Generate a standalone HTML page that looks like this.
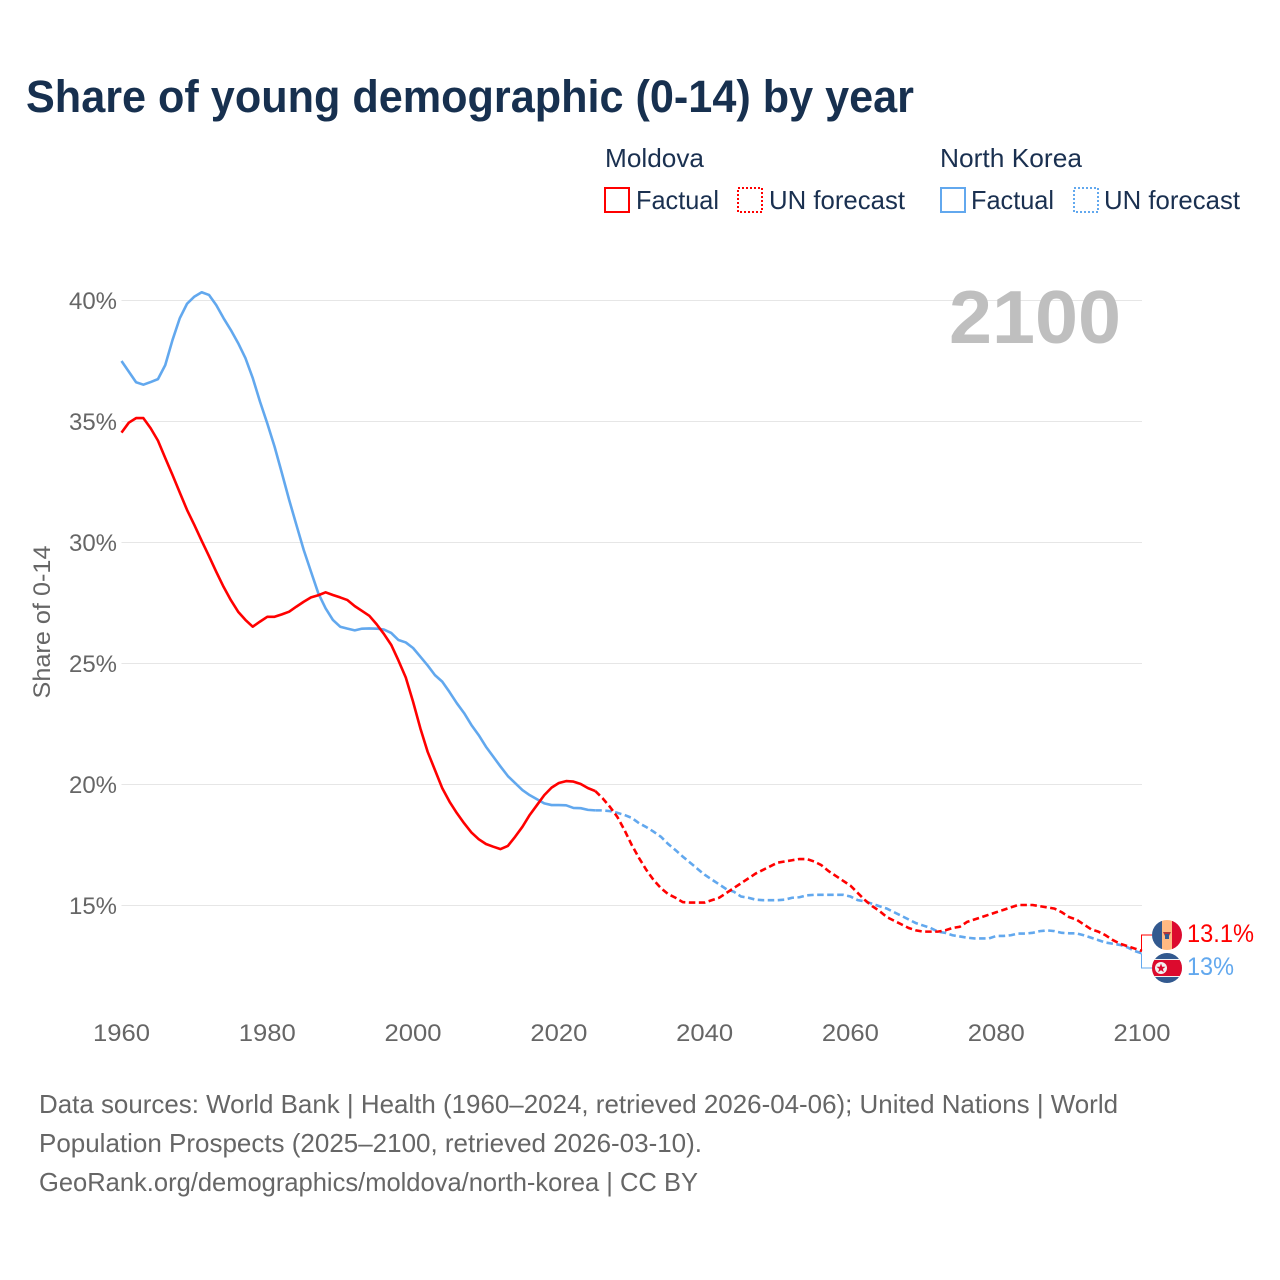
<!DOCTYPE html>
<html lang="en">
<head>
<meta charset="utf-8">
<title>Share of young demographic (0-14) by year</title>
<style>
html,body{margin:0;padding:0;background:#fff;}
svg{display:block;font-family:"Liberation Sans",sans-serif;}
</style>
</head>
<body>
<svg id="chart" xmlns="http://www.w3.org/2000/svg" width="1280" height="1280" viewBox="0 0 1280 1280">
  <rect x="0" y="0" width="1280" height="1280" fill="#fff"/>
  <text x="26" y="112" font-size="45" font-weight="bold" fill="#17304f" textLength="888" lengthAdjust="spacingAndGlyphs">Share of young demographic (0-14) by year</text>

  <g font-size="26" fill="#1a3050">
    <text x="605" y="167" textLength="99" lengthAdjust="spacingAndGlyphs">Moldova</text>
    <text x="940" y="167" textLength="142" lengthAdjust="spacingAndGlyphs">North Korea</text>
    <rect x="605" y="188" width="24" height="24" fill="none" stroke="#ff0000" stroke-width="2"/>
    <text x="636" y="209" textLength="83" lengthAdjust="spacingAndGlyphs">Factual</text>
    <rect x="738" y="188" width="24" height="24" fill="none" stroke="#ff0000" stroke-width="2" stroke-dasharray="2 2"/>
    <text x="769" y="209" textLength="136" lengthAdjust="spacingAndGlyphs">UN forecast</text>
    <rect x="941" y="188" width="24" height="24" fill="none" stroke="#62a8ee" stroke-width="2"/>
    <text x="971" y="209" textLength="83" lengthAdjust="spacingAndGlyphs">Factual</text>
    <rect x="1074" y="188" width="24" height="24" fill="none" stroke="#62a8ee" stroke-width="2" stroke-dasharray="2 2"/>
    <text x="1104" y="209" textLength="136" lengthAdjust="spacingAndGlyphs">UN forecast</text>
  </g>

  <g id="grid"></g>
  <g id="yticks" font-size="24" fill="#666" text-anchor="end"></g>
  <g id="xticks" font-size="24" fill="#666" text-anchor="middle"></g>
  <text transform="translate(50,622) rotate(-90)" font-size="24" fill="#666" text-anchor="middle" textLength="153" lengthAdjust="spacingAndGlyphs">Share of 0-14</text>
  <text x="949" y="343" font-size="75" font-weight="bold" fill="#bfbfbf" textLength="172" lengthAdjust="spacingAndGlyphs">2100</text>

  <g id="series"></g>

  <g id="end"></g>

  <g>
    <clipPath id="clip-md"><circle cx="1167" cy="935" r="15"/></clipPath>
    <g clip-path="url(#clip-md)">
      <rect x="1152" y="920" width="10" height="30" fill="#32598f"/>
      <rect x="1162" y="920" width="10" height="30" fill="#ffb982"/>
      <rect x="1172" y="920" width="10" height="30" fill="#dc0a2e"/>
      <path d="M1163 932 L1171 932 L1169 936 L1165 936 Z" fill="#b0353a"/>
      <rect x="1165" y="934" width="4" height="5" fill="#32598f"/>
    </g>
  </g>
  <g>
    <clipPath id="clip-kp"><circle cx="1167" cy="968" r="15"/></clipPath>
    <g clip-path="url(#clip-kp)">
      <rect x="1152" y="953" width="30" height="30" fill="#32598f"/>
      <rect x="1152" y="959" width="30" height="18" fill="#f2f2f2"/>
      <rect x="1152" y="960" width="30" height="16" fill="#dc0a2e"/>
      <circle cx="1161" cy="968" r="6" fill="#f2f2f2"/>
      <path d="M1161 963.5 L1162.2 966.7 L1165.5 966.8 L1162.9 968.9 L1163.8 972.2 L1161 970.3 L1158.2 972.2 L1159.1 968.9 L1156.5 966.8 L1159.8 966.7 Z" fill="#dc0a2e"/>
    </g>
  </g>

  <g font-size="26" fill="#666">
    <text x="39" y="1113" textLength="1079" lengthAdjust="spacingAndGlyphs">Data sources: World Bank | Health (1960–2024, retrieved 2026-04-06); United Nations | World</text>
    <text x="39" y="1152" textLength="663" lengthAdjust="spacingAndGlyphs">Population Prospects (2025–2100, retrieved 2026-03-10).</text>
    <text x="39" y="1191" textLength="659" lengthAdjust="spacingAndGlyphs">GeoRank.org/demographics/moldova/north-korea | CC BY</text>
  </g>
</svg>
<script>
const yTicks = [40, 35, 30, 25, 20, 15];
const xTicks = [1960, 1980, 2000, 2020, 2040, 2060, 2080, 2100];
const firstYear = 1960;
const forecastFirstYear = 2025;

const moldovaFactual = [34.52,34.93,35.12,35.12,34.7,34.19,33.47,32.77,32.04,31.32,
  30.7,30.05,29.42,28.77,28.15,27.6,27.12,26.78,26.5,26.71,
  26.91,26.91,27.01,27.12,27.33,27.53,27.71,27.8,27.92,27.81,
  27.71,27.6,27.35,27.15,26.95,26.6,26.2,25.75,25.1,24.4,
  23.4,22.3,21.33,20.58,19.83,19.27,18.8,18.38,18.0,17.72,
  17.52,17.41,17.31,17.44,17.82,18.23,18.72,19.13,19.54,19.85,
  20.04,20.12,20.1,20.0,19.83,19.71];
const moldovaForecast = [19.71,19.41,19.06,18.65,18.1,17.48,16.94,16.45,16.03,15.7,
  15.45,15.3,15.12,15.1,15.1,15.1,15.2,15.3,15.5,15.7,
  15.9,16.1,16.3,16.45,16.6,16.75,16.8,16.85,16.9,16.9,
  16.8,16.65,16.4,16.2,16.0,15.8,15.5,15.2,14.95,14.75,
  14.5,14.35,14.2,14.05,13.95,13.9,13.9,13.9,13.95,14.05,
  14.1,14.3,14.4,14.5,14.6,14.7,14.8,14.9,15.0,15.0,
  15.0,14.95,14.9,14.85,14.7,14.5,14.4,14.2,14.0,13.9,
  13.75,13.55,13.4,13.3,13.2,13.1];
const northKoreaFactual = [37.48,37.04,36.6,36.5,36.61,36.73,37.31,38.35,39.25,39.85,
  40.14,40.32,40.21,39.79,39.25,38.76,38.22,37.6,36.78,35.8,
  34.9,33.94,32.85,31.74,30.7,29.67,28.77,27.88,27.26,26.78,
  26.5,26.42,26.35,26.42,26.43,26.42,26.38,26.24,25.95,25.85,
  25.62,25.26,24.9,24.5,24.23,23.8,23.34,22.93,22.44,22.02,
  21.54,21.13,20.72,20.33,20.04,19.75,19.54,19.37,19.2,19.13,
  19.13,19.12,19.01,19.0,18.93,18.91];
const northKoreaForecast = [18.91,18.91,18.88,18.81,18.72,18.6,18.38,18.22,18.03,17.82,
  17.52,17.27,17.0,16.75,16.5,16.25,16.05,15.85,15.65,15.55,
  15.35,15.3,15.22,15.2,15.2,15.2,15.22,15.3,15.32,15.4,
  15.42,15.42,15.42,15.42,15.42,15.35,15.2,15.15,15.05,14.95,
  14.85,14.7,14.55,14.4,14.25,14.15,14.05,13.9,13.85,13.75,
  13.7,13.65,13.62,13.62,13.62,13.72,13.72,13.75,13.82,13.82,
  13.85,13.92,13.95,13.92,13.85,13.83,13.83,13.75,13.65,13.55,
  13.45,13.4,13.35,13.25,13.1,13.0];

const SVG_NS = 'http://www.w3.org/2000/svg';
const RED = '#ff0000';
const BLUE = '#62a8ee';
const LINE_WIDTH = 2.6;
function xScale(year) { return 121.5 + (year - 1960) * (1142 - 121.5) / 140; }
function yScale(value) { return 300 + (40 - value) * 24.2; }
function make(tag, attrs) {
  const el = document.createElementNS(SVG_NS, tag);
  for (const k in attrs) el.setAttribute(k, attrs[k]);
  return el;
}
function linePoints(values, startYear) {
  return values.map(function (v, i) {
    return xScale(startYear + i).toFixed(2) + ',' + yScale(v).toFixed(2);
  }).join(' ');
}

const gridG = document.getElementById('grid');
const yG = document.getElementById('yticks');
yTicks.forEach(function (t) {
  const gy = Math.round(yScale(t)) + 0.5;
  const line = make('line', { x1: xScale(1960), x2: xScale(2100), y1: gy, y2: gy, stroke: '#e6e6e6', 'stroke-width': 1 });
  
  
  gridG.appendChild(line);
  const label = make('text', { x: 117, y: yScale(t) + 9, textLength: 48, lengthAdjust: 'spacingAndGlyphs' });
  
  
  label.textContent = t + '%';
  yG.appendChild(label);
});

const xG = document.getElementById('xticks');
xTicks.forEach(function (t) {
  const label = make('text', { x: xScale(t), y: 1041, textLength: 57, lengthAdjust: 'spacingAndGlyphs' });
  
  
  label.textContent = t;
  xG.appendChild(label);
});

const seriesG = document.getElementById('series');

const mdSolid = make('polyline', { points: linePoints(moldovaFactual, firstYear), fill: 'none', stroke: RED, 'stroke-width': LINE_WIDTH, 'stroke-linejoin': 'round' });



const mdDash = make('polyline', { points: linePoints(moldovaForecast, forecastFirstYear), fill: 'none', stroke: RED, 'stroke-width': LINE_WIDTH, 'stroke-dasharray': '6.5 3.5' });



const kpSolid = make('polyline', { points: linePoints(northKoreaFactual, firstYear), fill: 'none', stroke: BLUE, 'stroke-width': LINE_WIDTH, 'stroke-linejoin': 'round' });



const kpDash = make('polyline', { points: linePoints(northKoreaForecast, forecastFirstYear), fill: 'none', stroke: BLUE, 'stroke-width': LINE_WIDTH, 'stroke-dasharray': '6.5 3.5' });



seriesG.appendChild(kpSolid);
seriesG.appendChild(mdSolid);
seriesG.appendChild(kpDash);
seriesG.appendChild(mdDash);

const endG = document.getElementById('end');
const mdLast = moldovaForecast[moldovaForecast.length - 1];
const kpLast = northKoreaForecast[northKoreaForecast.length - 1];

const mdConn = make('path', { d: 'M' + (xScale(2100) - 0.5) + ' ' + yScale(mdLast) + ' V935 H1152', fill: 'none', stroke: RED, 'stroke-width': 1 });


endG.appendChild(mdConn);

const kpConn = make('path', { d: 'M' + (xScale(2100) - 0.5) + ' ' + yScale(kpLast) + ' V968 H1152', fill: 'none', stroke: BLUE, 'stroke-width': 1 });


endG.appendChild(kpConn);

const mdLabel = make('text', { x: 1187, y: 942, 'font-size': 25, fill: RED, textLength: 67, lengthAdjust: 'spacingAndGlyphs' });


mdLabel.textContent = mdLast + '%';
endG.appendChild(mdLabel);

const kpLabel = make('text', { x: 1187, y: 975, 'font-size': 25, fill: BLUE, textLength: 47, lengthAdjust: 'spacingAndGlyphs' });


kpLabel.textContent = kpLast + '%';
endG.appendChild(kpLabel);
</script>
</body>
</html>
